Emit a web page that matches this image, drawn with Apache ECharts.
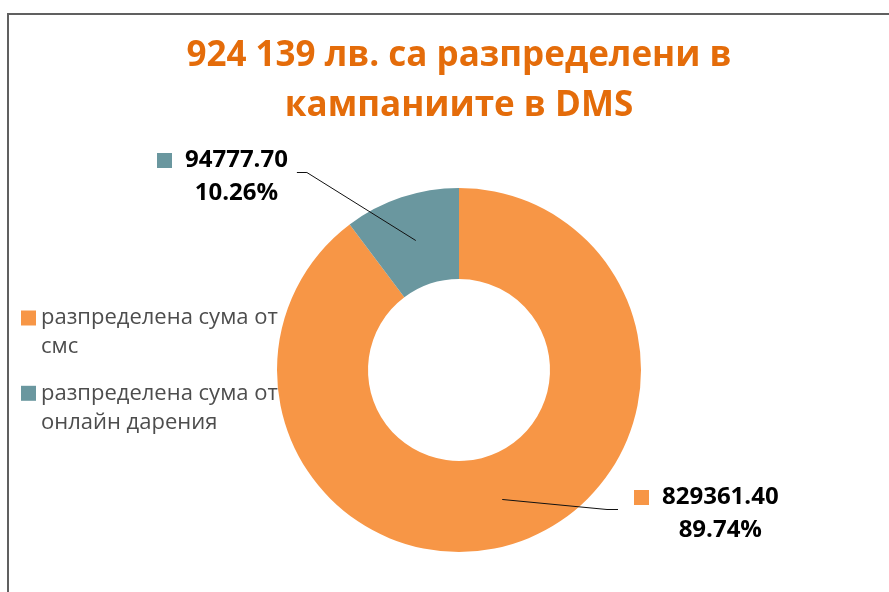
<!DOCTYPE html>
<html><head><meta charset="utf-8">
<script src="https://cdn.jsdelivr.net/npm/echarts@6/dist/echarts.min.js"></script>
<style>html,body{margin:0;padding:0;background:#fff}#c{width:889px;height:592px}</style>
</head><body><div id="c"></div>
<script>
const titleLines = ['924 139 лв. са разпределени в', 'кампаниите в DMS'];
const categories = ['разпределена сума от смс', 'разпределена сума от онлайн дарения'];
const values = [829361.40, 94777.70];
const colors = ['#F79646', '#6A979F'];
// top-left anchor of each data label box (layout only)
const labelPos = [[634, 481], [157, 144]];
const center = [459, 370];
const FONT = 'Open Sans';

const chart = echarts.init(document.getElementById('c'), null, {renderer: 'canvas'});

const data = categories.map((n, i) => ({name: n, value: values[i], itemStyle: {color: colors[i]}}));
const labelData = categories.map((n, i) => ({name: n, value: values[i]}));

const tok = {fontFamily: FONT, fontSize: 24, fontWeight: 'bold', color: '#000', lineHeight: 33, align: 'center'};
const rich = {
  g: {width: 13, align: 'center', lineHeight: 33},
  s: {width: 28, align: 'center', lineHeight: 33},
  v: tok,
  p: tok
};
colors.forEach((c, i) => { rich['m' + i] = {width: 15, height: 15, backgroundColor: c, align: 'center'}; });

// wrap legend names after "от" like the original; leading empty line keeps the key beside the first line
function legendText(name) {
  const k = name.indexOf(' от ') + 3;
  return '\n' + name.slice(0, k) + '\n' + name.slice(k + 1);
}

chart.setOption({
  animation: false,
  backgroundColor: '#fff',
  graphic: [{
    type: 'rect', z: -10, silent: true,
    shape: {x: 8, y: 14, width: 1400, height: 1400},
    style: {fill: 'none', stroke: '#606060', lineWidth: 2}
  }],
  title: {
    text: titleLines.join('\n'),
    left: 459, top: 31, padding: 0, textAlign: 'center',
    textStyle: {color: '#E46C0A', fontSize: 35, fontWeight: 'bold', fontFamily: FONT, lineHeight: 50}
  },
  legend: {
    orient: 'vertical', left: 21, top: 274.5, padding: 0,
    itemWidth: 15, itemHeight: 15, itemGap: -11.7, icon: 'rect', selectedMode: false,
    data: categories,
    formatter: legendText,
    textStyle: {fontFamily: FONT, fontSize: 22, color: '#4d4d4d', lineHeight: 29}
  },
  series: [{
    type: 'pie', radius: [91, 182], center: center, startAngle: 90, clockwise: true,
    data: data, silent: true, avoidLabelOverlap: false,
    label: {show: false}, labelLine: {show: false},
    itemStyle: {borderWidth: 0}, emphasis: {disabled: true}
  }, {
    type: 'pie', z: 5, radius: [0, 136.5], center: center, startAngle: 90, clockwise: true,
    data: labelData, silent: true, avoidLabelOverlap: false,
    itemStyle: {color: 'rgba(0,0,0,0)', borderWidth: 0}, emphasis: {disabled: true},
    label: {
      show: true, position: 'outside', opacity: 1,
      formatter: p => `{m${p.dataIndex}|}{g|}{v|${p.value.toFixed(2)}}\n{s|}{p|${p.percent.toFixed(2)}%}`,
      rich: rich
    },
    labelLine: {show: true, smooth: false, length: 20, length2: 10, lineStyle: {color: '#111', width: 1, opacity: 1}},
    labelLayout: function (p) {
      const pos = labelPos[p.dataIndex];
      const w = p.labelRect.width, h = p.labelRect.height;
      const start = p.labelLinePoints[0];
      const cy = pos[1] + h / 2;
      let end, elbow;
      if (pos[0] + w / 2 < center[0]) {
        end = [pos[0] + w + 9, cy]; elbow = [end[0] + 10, cy];
      } else {
        end = [pos[0] - 16, cy]; elbow = [end[0] - 11, cy];
      }
      return {x: pos[0], y: pos[1], align: 'left', verticalAlign: 'top', labelLinePoints: [start, elbow, end]};
    }
  }]
});
</script></body></html>
